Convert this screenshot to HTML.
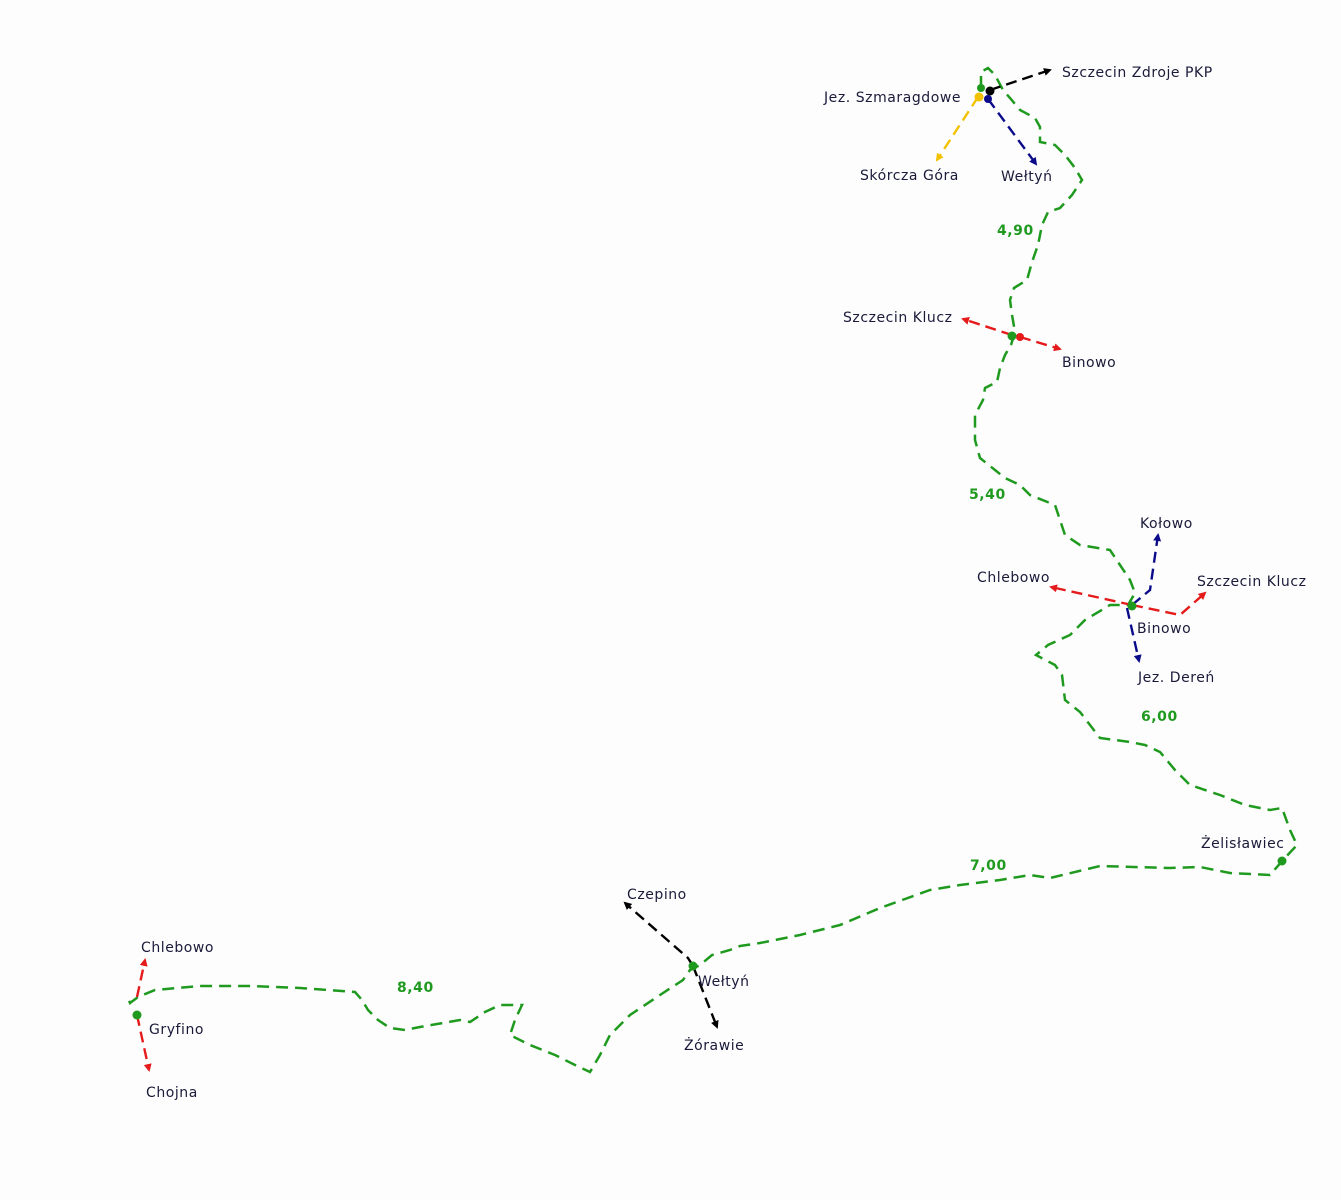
<!DOCTYPE html>
<html><head><meta charset="utf-8"><style>
html,body{margin:0;padding:0;background:#fdfdfd;}
svg{display:block}
text{font-family:"DejaVu Sans","Liberation Sans",sans-serif;font-size:14px;letter-spacing:0.55px;fill:#1a1a3a;}
.g{fill:#1f9a1f;font-weight:bold;}
</style></head><body>
<svg width="1341" height="1200" viewBox="0 0 1341 1200">
<defs>
<marker id="ak" markerWidth="8" markerHeight="8" refX="6" refY="4" orient="auto" markerUnits="userSpaceOnUse"><path d="M0,0L8,4L0,8z" fill="#000"/></marker>
<marker id="ar" markerWidth="8" markerHeight="8" refX="6" refY="4" orient="auto" markerUnits="userSpaceOnUse"><path d="M0,0L8,4L0,8z" fill="#e51b1b"/></marker>
<marker id="ab" markerWidth="8" markerHeight="8" refX="6" refY="4" orient="auto" markerUnits="userSpaceOnUse"><path d="M0,0L8,4L0,8z" fill="#0b0b8a"/></marker>
<marker id="ay" markerWidth="8" markerHeight="8" refX="6" refY="4" orient="auto" markerUnits="userSpaceOnUse"><path d="M0,0L8,4L0,8z" fill="#f2c200"/></marker>
</defs>
<polyline fill="none" stroke="#1f9a1f" stroke-width="2.5" stroke-dasharray="12,7" points="981,88 981,72 988,68 995,75 1003,90 1010,98 1020,110 1035,118 1040,127 1040,142 1055,145 1065,155 1075,168 1082,180 1072,195 1060,208 1048,212 1042,225 1038,245 1032,262 1027,280 1014,288 1010,300 1012,315 1015,332 1011,345 1005,355 1000,368 997,382 985,388 983,400 975,415 975,440 980,458 995,470 1005,478 1020,485 1030,495 1055,505 1060,520 1065,535 1080,545 1110,550 1120,565 1130,580 1135,593 1128,605 1110,605 1085,620 1070,635 1048,645 1036,655 1055,665 1062,675 1065,700 1080,712 1090,725 1100,738 1130,742 1145,745 1160,752 1175,770 1190,785 1220,795 1245,805 1270,810 1282,808 1290,830 1297,845 1283,860 1270,875 1230,873 1200,867 1170,868 1100,866 1050,878 1030,875 1000,880 960,885 930,890 880,908 840,925 800,935 760,943 740,946 730,950 712,955 700,965 690,970 683,980 660,995 630,1015 610,1035 600,1055 590,1072 575,1065 555,1055 530,1045 510,1035 515,1020 522,1005 500,1005 485,1012 470,1022 460,1020 420,1027 405,1030 390,1028 378,1020 368,1010 362,1000 355,992 300,988 250,986 200,986 155,990 138,997 130,1003 127,995"/>
<g stroke-width="2.4" stroke-dasharray="11,6" fill="none">
<line x1="990" y1="90" x2="1050" y2="70" stroke="#000" marker-end="url(#ak)"/>
<line x1="978" y1="97" x2="937" y2="160" stroke="#f2c200" marker-end="url(#ay)"/>
<line x1="988" y1="99" x2="1036" y2="164" stroke="#0b0b8a" marker-end="url(#ab)"/>
<line x1="1012" y1="335" x2="963" y2="319" stroke="#e51b1b" marker-end="url(#ar)"/>
<line x1="1020" y1="337" x2="1060" y2="349" stroke="#e51b1b" marker-end="url(#ar)"/>
<line x1="1132" y1="605" x2="1051" y2="587" stroke="#e51b1b" marker-end="url(#ar)"/>
<polyline points="1132,605 1180,615 1205,593" stroke="#e51b1b" marker-end="url(#ar)"/>
<polyline points="1132,605 1150,590 1158,535" stroke="#0b0b8a" marker-end="url(#ab)"/>
<line x1="1127" y1="608" x2="1139" y2="661" stroke="#0b0b8a" marker-end="url(#ab)"/>
<polyline points="693,966 688,958 625,903" stroke="#000" marker-end="url(#ak)"/>
<line x1="693" y1="966" x2="717" y2="1027" stroke="#000" marker-end="url(#ak)"/>
<line x1="137" y1="997" x2="145" y2="960" stroke="#e51b1b" marker-end="url(#ar)"/>
<line x1="137" y1="1015" x2="149" y2="1070" stroke="#e51b1b" marker-end="url(#ar)"/>
</g>
<circle cx="981" cy="88" r="4" fill="#1f9a1f"/>
<circle cx="990" cy="91" r="4.5" fill="#000"/>
<circle cx="979" cy="97" r="4.5" fill="#f2c200"/>
<circle cx="988" cy="99" r="4" fill="#0b0b8a"/>
<circle cx="1020" cy="337" r="4" fill="#e51b1b"/>
<circle cx="1012" cy="336" r="4.5" fill="#1f9a1f"/>
<circle cx="1132" cy="606" r="4.5" fill="#1f9a1f"/>
<circle cx="1282" cy="861" r="4.5" fill="#1f9a1f"/>
<circle cx="693" cy="966" r="4.5" fill="#1f9a1f"/>
<circle cx="137" cy="1015" r="4.5" fill="#1f9a1f"/>
<text x="1062" y="77">Szczecin Zdroje PKP</text>
<text x="824" y="102">Jez. Szmaragdowe</text>
<text x="860" y="180">Skórcza Góra</text>
<text x="1001" y="181">Wełtyń</text>
<text class="g" x="997" y="235">4,90</text>
<text x="843" y="322">Szczecin Klucz</text>
<text x="1062" y="367">Binowo</text>
<text class="g" x="969" y="499">5,40</text>
<text x="1140" y="528">Kołowo</text>
<text x="977" y="582">Chlebowo</text>
<text x="1197" y="586">Szczecin Klucz</text>
<text x="1137" y="633">Binowo</text>
<text x="1138" y="682">Jez. Dereń</text>
<text class="g" x="1141" y="721">6,00</text>
<text x="1201" y="848">Żelisławiec</text>
<text class="g" x="970" y="870">7,00</text>
<text x="627" y="899">Czepino</text>
<text x="698" y="986">Wełtyń</text>
<text x="684" y="1050">Żórawie</text>
<text class="g" x="397" y="992">8,40</text>
<text x="141" y="952">Chlebowo</text>
<text x="149" y="1034">Gryfino</text>
<text x="146" y="1097">Chojna</text>
</svg>
</body></html>
